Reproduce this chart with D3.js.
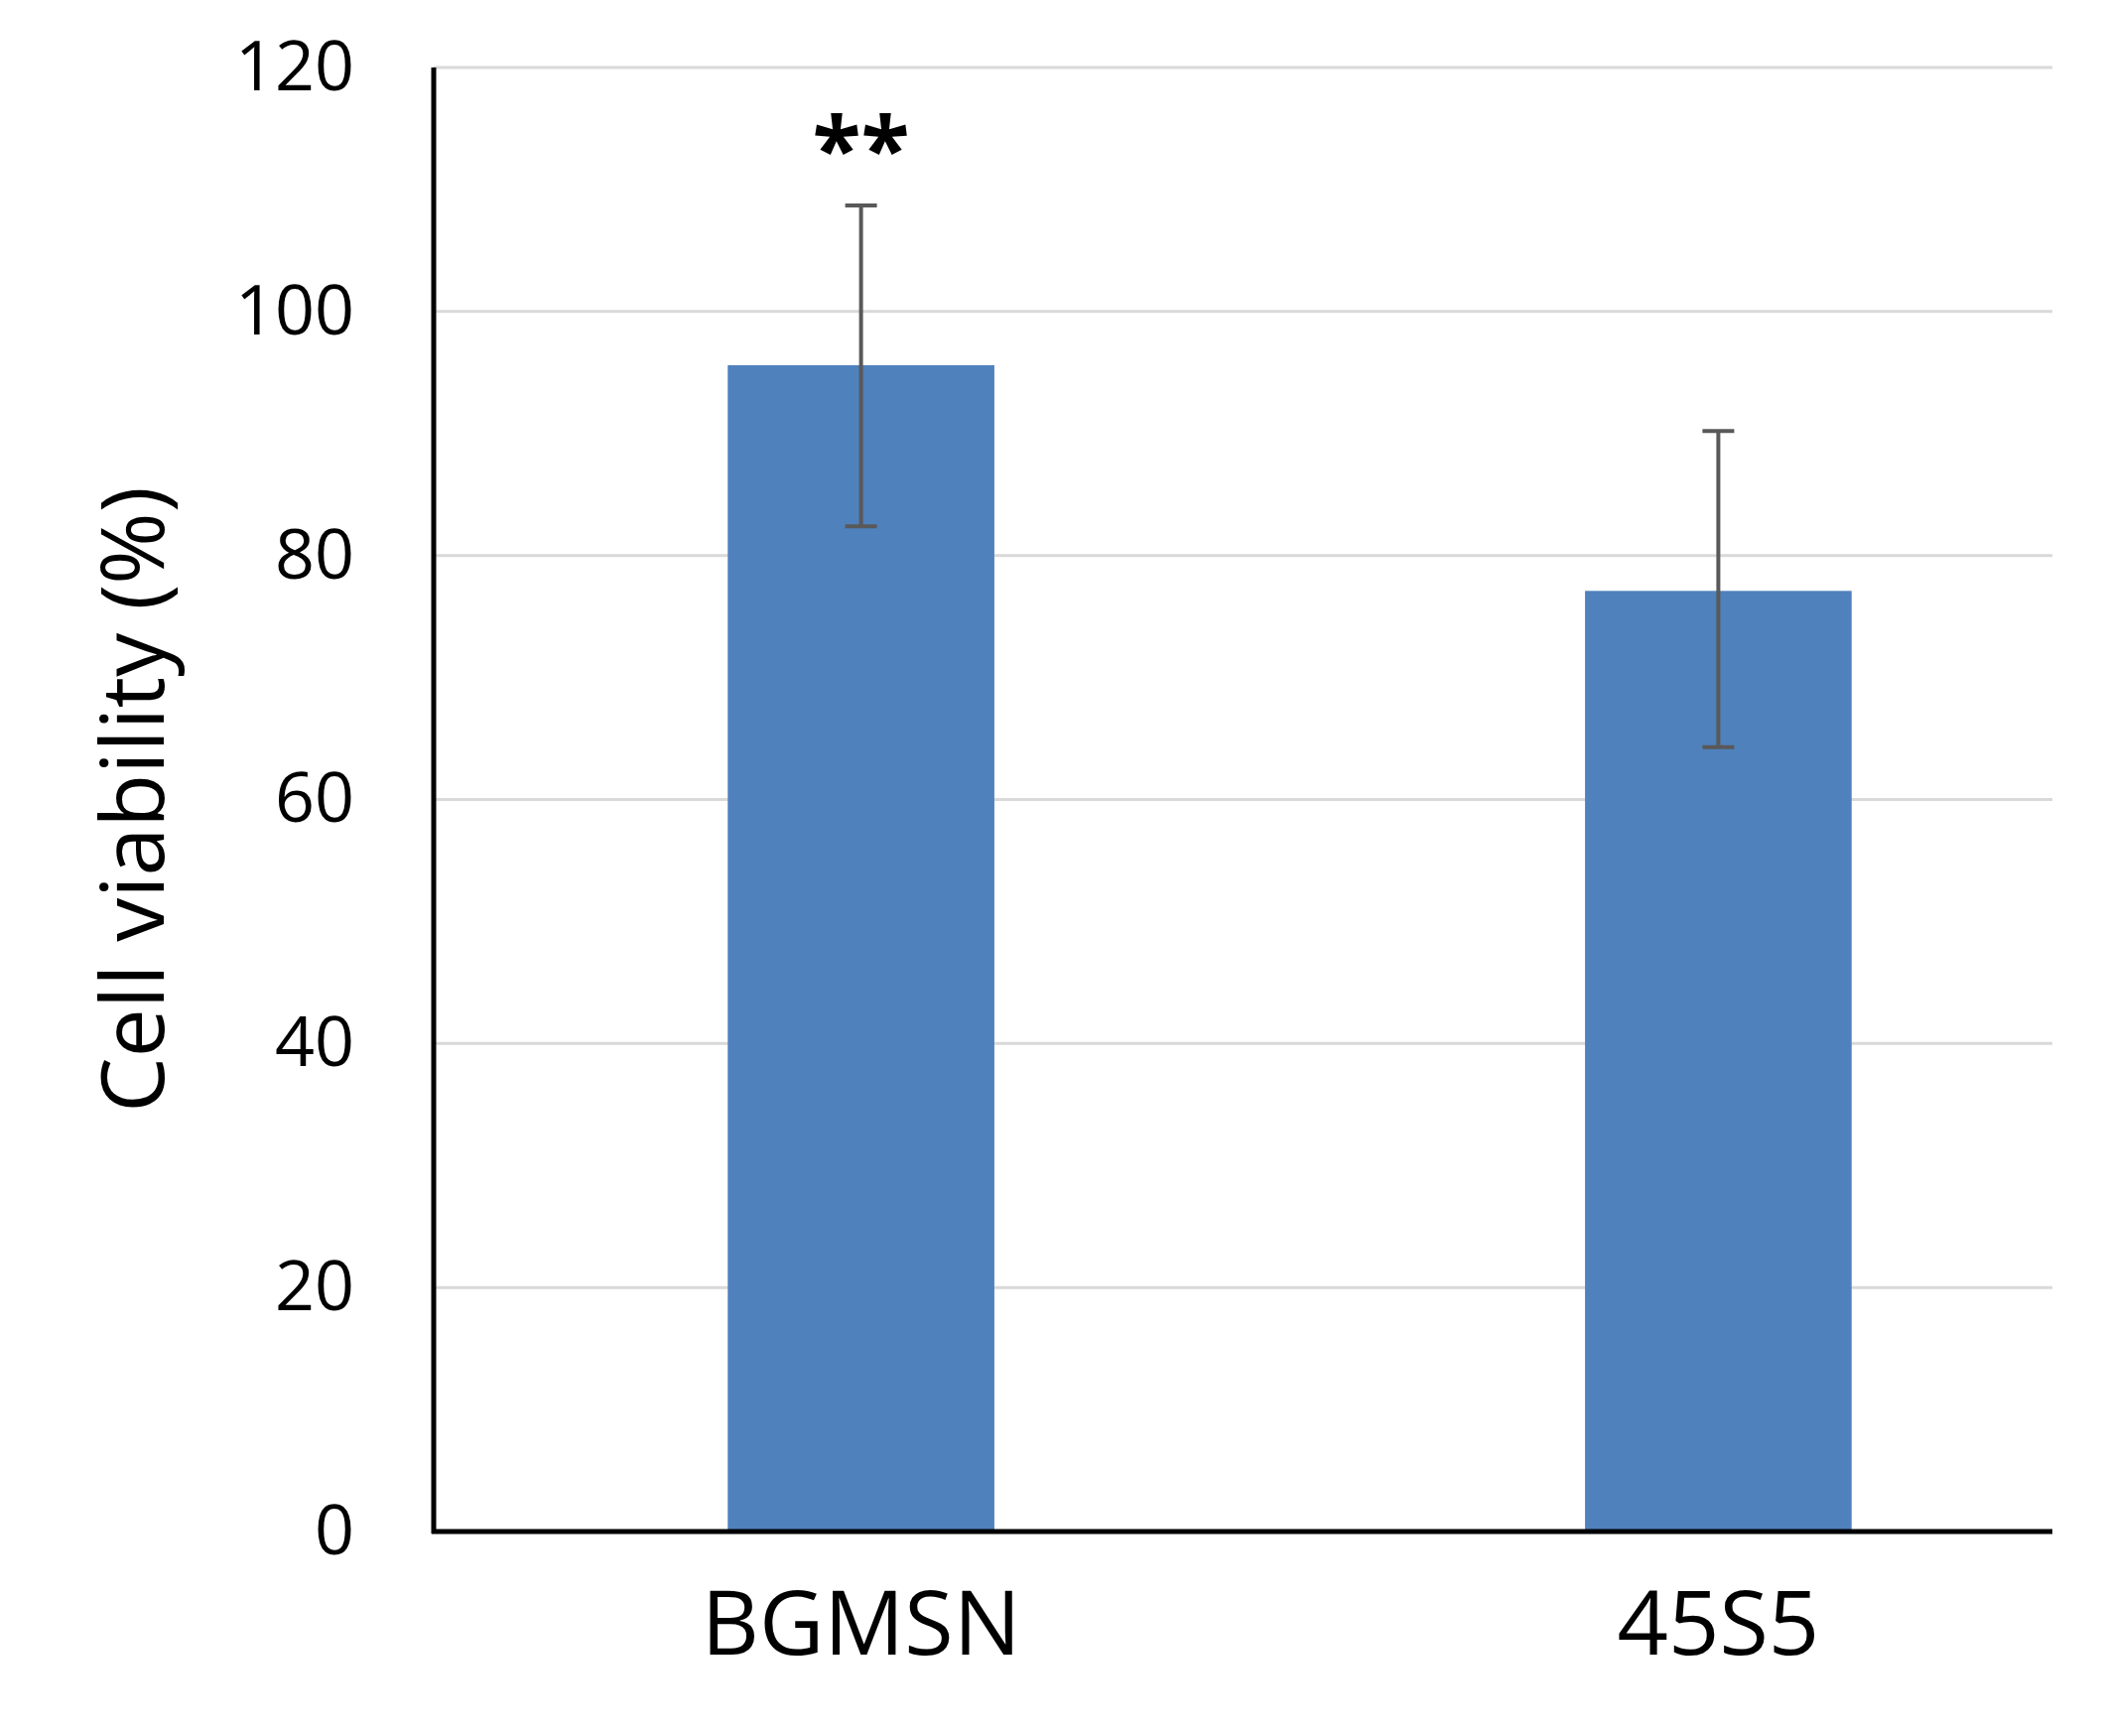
<!DOCTYPE html>
<html><head><meta charset="utf-8">
<script src="https://cdn.jsdelivr.net/npm/d3@7"></script>
<style>body{margin:0;background:#fff}</style></head>
<body><svg id="c" width="2120" height="1749"></svg>
<script>
const categories = ["BGMSN", "45S5"];
const values = [95.6, 77.1];
const errUpper = [108.7, 90.2];
const errLower = [82.4, 64.3];
const stars = ["**", ""];
const yTicks = [0, 20, 40, 60, 80, 100, 120];

const svg = d3.select("#c");
const L = 437, R = 2068, T = 68, B = 1543;
const font = "Open Sans, Noto Sans, sans-serif";
const y = d3.scaleLinear().domain([0, 120]).range([B, T]);
const x = d3.scaleBand().domain(categories).range([L, L + 1725]).paddingInner(0.689).paddingOuter(0.343);

svg.append("g").selectAll("line").data(yTicks.slice(1)).join("line")
  .attr("x1", L).attr("x2", R).attr("y1", d => y(d)).attr("y2", d => y(d))
  .attr("stroke", "#d9d9d9").attr("stroke-width", 3);

svg.append("g").selectAll("rect").data(categories).join("rect")
  .attr("x", d => x(d)).attr("width", x.bandwidth())
  .attr("y", (d, i) => y(values[i])).attr("height", (d, i) => B - y(values[i]))
  .attr("fill", "#4f81bd");

const eg = svg.append("g").attr("stroke", "#595959").attr("stroke-width", 4);
categories.forEach((c, i) => {
  const cx = x(c) + x.bandwidth() / 2;
  eg.append("line").attr("x1", cx).attr("x2", cx).attr("y1", y(errUpper[i])).attr("y2", y(errLower[i]));
  [errUpper[i], errLower[i]].forEach(v => eg.append("line").attr("x1", cx - 16).attr("x2", cx + 16).attr("y1", y(v)).attr("y2", y(v)));
  if (stars[i]) svg.append("text").attr("x", cx).attr("y", y(errUpper[i]) - 25).attr("text-anchor", "middle")
    .attr("font-family", font).attr("font-size", 90).attr("font-weight", "bold").text(stars[i]);
});

const ya = svg.append("g").attr("transform", `translate(${L},0)`)
  .call(d3.axisLeft(y).tickValues(yTicks).tickSize(0).tickPadding(80));
ya.select(".domain").remove();
ya.selectAll("text").attr("font-family", font).attr("font-size", 70).attr("fill", "#000");

svg.append("line").attr("x1", L).attr("x2", L).attr("y1", T).attr("y2", B + 2).attr("stroke", "#000").attr("stroke-width", 5);
svg.append("line").attr("x1", L - 2).attr("x2", R).attr("y1", B).attr("y2", B).attr("stroke", "#000").attr("stroke-width", 5);

const xa = svg.append("g").attr("transform", `translate(0,${B})`).call(d3.axisBottom(x).tickSize(0).tickPadding(60));
xa.select(".domain").remove();
xa.selectAll("text").attr("font-family", font).attr("font-size", 90).attr("fill", "#000");

svg.append("text").attr("transform", `translate(165,${(T + B) / 2}) rotate(-90)`).attr("text-anchor", "middle")
  .attr("font-family", font).attr("font-size", 88).text("Cell viability (%)");
</script></body></html>
